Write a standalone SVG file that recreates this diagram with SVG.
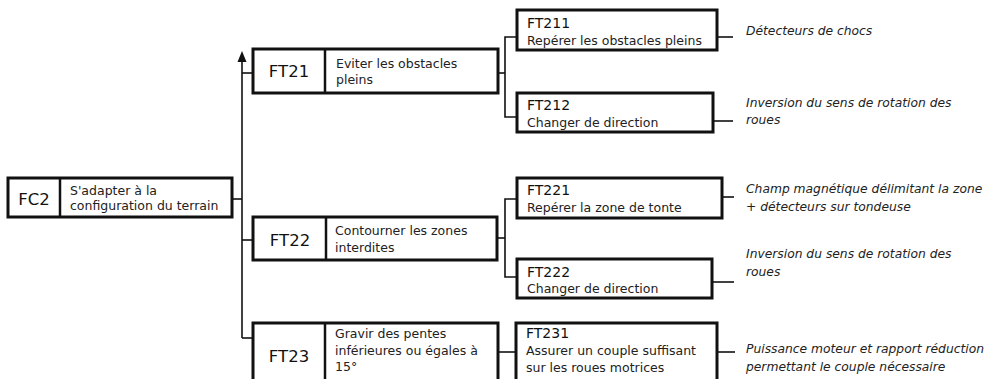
<svg xmlns="http://www.w3.org/2000/svg" width="994" height="379" viewBox="0 0 994 379">
  <style>
    .box { fill: #fff; stroke: #111; stroke-width: 3; }
    .div { stroke: #111; stroke-width: 2.5; }
    .wire { fill: none; stroke: #111; stroke-width: 1.6; }
    .code { font-family: "DejaVu Sans", Verdana, sans-serif; font-size: 16.5px; fill: #111; text-anchor: middle; }
    .t { font-family: "DejaVu Sans", Verdana, sans-serif; font-size: 12.5px; fill: #222; }
    .sub { font-family: "DejaVu Sans", Verdana, sans-serif; font-size: 14px; fill: #111; }
    .note { font-family: "DejaVu Sans", Verdana, sans-serif; font-size: 12.3px; font-style: italic; fill: #222; }
  </style>
  <rect width="994" height="379" fill="#fff"/>

  <g id="connectors">
    <!-- trunk from FC2 -->
    <path class="wire" d="M232,199 H242"/>
    <path class="wire" d="M242,338 V60"/>
    <polygon points="242,51 237.5,62 246.5,62" fill="#111"/>
    <path class="wire" d="M242,73 H253"/>
    <path class="wire" d="M242,240 H253"/>
    <path class="wire" d="M242,338 H253"/>
    <!-- FT21 branches -->
    <path class="wire" d="M498,73 H505"/>
    <path class="wire" d="M517,37 H505 V117 H517"/>
    <!-- FT22 branches -->
    <path class="wire" d="M497,238 H505"/>
    <path class="wire" d="M517,199 H505 V277 H517"/>
    <!-- FT23 branch -->
    <path class="wire" d="M498,352 H516"/>
    <!-- leaders to the solutions -->
    <path class="wire" d="M717,37 H733"/>
    <path class="wire" d="M713,121 H733"/>
    <path class="wire" d="M722,197 H734"/>
    <path class="wire" d="M712,282 H734"/>
    <path class="wire" d="M717,352 H735"/>
  </g>

  <g id="FC2">
    <rect class="box" x="8" y="178" width="224" height="39"/>
    <line class="div" x1="60" y1="178" x2="60" y2="217"/>
    <text class="code" x="34" y="205">FC2</text>
    <text class="t" x="70" y="195">S'adapter à la</text>
    <text class="t" x="70" y="210">configuration du terrain</text>
  </g>

  <g id="FT21">
    <rect class="box" x="253" y="49" width="245" height="44"/>
    <line class="div" x1="325" y1="49" x2="325" y2="93"/>
    <text class="code" x="289" y="77">FT21</text>
    <text class="t" x="336" y="68">Eviter les obstacles</text>
    <text class="t" x="336" y="84">pleins</text>
  </g>

  <g id="FT22">
    <rect class="box" x="253" y="217" width="244" height="43"/>
    <line class="div" x1="326" y1="217" x2="326" y2="260"/>
    <text class="code" x="290" y="246">FT22</text>
    <text class="t" x="335" y="235">Contourner les zones</text>
    <text class="t" x="335" y="252">interdites</text>
  </g>

  <g id="FT23">
    <rect class="box" x="253" y="323" width="245" height="70"/>
    <line class="div" x1="325" y1="323" x2="325" y2="393"/>
    <text class="code" x="289" y="362">FT23</text>
    <text class="t" x="335" y="338">Gravir des pentes</text>
    <text class="t" x="335" y="355">inférieures ou égales à</text>
    <text class="t" x="335" y="371">15°</text>
  </g>

  <g id="FT211">
    <rect class="box" x="517" y="10" width="200" height="40"/>
    <text class="sub" x="527" y="28">FT211</text>
    <text class="t" x="527" y="45">Repérer les obstacles pleins</text>
  </g>

  <g id="FT212">
    <rect class="box" x="517" y="93" width="196" height="39"/>
    <text class="sub" x="527" y="110">FT212</text>
    <text class="t" x="527" y="127">Changer de direction</text>
  </g>

  <g id="FT221">
    <rect class="box" x="517" y="178" width="205" height="40"/>
    <text class="sub" x="527" y="195">FT221</text>
    <text class="t" x="527" y="212">Repérer la zone de tonte</text>
  </g>

  <g id="FT222">
    <rect class="box" x="517" y="259" width="195" height="39"/>
    <text class="sub" x="527" y="277">FT222</text>
    <text class="t" x="527" y="293">Changer de direction</text>
  </g>

  <g id="FT231">
    <rect class="box" x="516" y="323" width="201" height="70"/>
    <text class="sub" x="526" y="338">FT231</text>
    <text class="t" x="526" y="355">Assurer un couple suffisant</text>
    <text class="t" x="526" y="372">sur les roues motrices</text>
  </g>

  <g id="solutions">
    <text class="note" x="746" y="35">Détecteurs de chocs</text>
    <text class="note" x="746" y="107">Inversion du sens de rotation des</text>
    <text class="note" x="746" y="124">roues</text>
    <text class="note" x="746" y="193">Champ magnétique délimitant la zone</text>
    <text class="note" x="746" y="211">+ détecteurs sur tondeuse</text>
    <text class="note" x="746" y="258">Inversion du sens de rotation des</text>
    <text class="note" x="746" y="276">roues</text>
    <text class="note" x="746" y="353">Puissance moteur et rapport réduction</text>
    <text class="note" x="746" y="371">permettant le couple nécessaire</text>
  </g>
</svg>
